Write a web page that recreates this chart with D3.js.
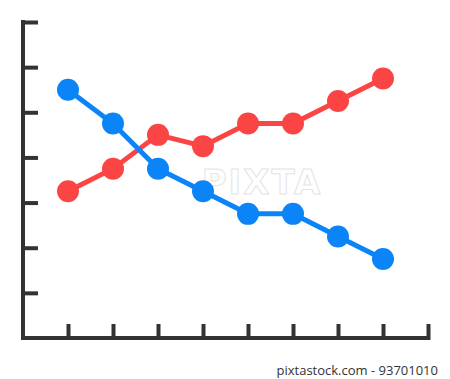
<!DOCTYPE html>
<html><head><meta charset="utf-8">
<script src="https://cdn.jsdelivr.net/npm/d3@7"></script>
<style>html,body{margin:0;padding:0;background:#fff;}svg{display:block;}</style>
</head><body>
<script>
const categories = [1, 2, 3, 4, 5, 6, 7, 8];
const blueValues = [5.5, 4.75, 3.75, 3.25, 2.75, 2.75, 2.25, 1.75];
const redValues = [3.25, 3.75, 4.5, 4.25, 4.75, 4.75, 5.25, 5.75];
const xTicks = [1, 2, 3, 4, 5, 6, 7, 8, 9];
const yTicks = [1, 2, 3, 4, 5, 6, 7];

const W = 450, H = 379;
const svg = d3.select("body").append("svg").attr("width", W).attr("height", H);

const x = d3.scaleLinear().domain([0, 9]).range([23, 428]);
const y = d3.scaleLinear().domain([0, 7]).range([338, 22]);

// faint watermark
svg.append("text").attr("x", 262).attr("y", 194).attr("text-anchor", "middle")
  .attr("font-family", "DejaVu Sans, sans-serif").attr("font-size", 34).attr("font-weight", "bold")
  .attr("fill", "none").attr("stroke", "#e4e4e4").attr("stroke-width", 1).attr("letter-spacing", 2)
  .text("PIXTA");

const axisColor = "#333";
// x axis with upward ticks
const xAxis = d3.axisBottom(x).tickValues(xTicks).tickSize(-12).tickFormat("");
const gx = svg.append("g").attr("transform", `translate(0,${y(0)})`).call(xAxis);
// y axis with inward ticks
const yAxis = d3.axisLeft(y).tickValues(yTicks).tickSize(-13).tickFormat("");
const gy = svg.append("g").attr("transform", `translate(${x(0)},0)`).call(yAxis);
[gx, gy].forEach(g => {
  g.select(".domain").remove();
  g.selectAll(".tick line").attr("stroke", axisColor).attr("stroke-width", 4).attr("stroke-linecap", "square");
});
svg.append("path")
  .attr("d", `M${x(0)},${y(0) - 316}V${y(0)}H${x(9)}`)
  .attr("fill", "none").attr("stroke", axisColor).attr("stroke-width", 4)
  .attr("stroke-linecap", "square").attr("stroke-linejoin", "miter");

const series = [
  { values: blueValues, color: "#0a84f7" },
  { values: redValues, color: "#fb4545" }
];
const line = d3.line().x((d, i) => x(categories[i])).y(d => y(d));
// draw red first? blue on top in crossing region (blue drawn last)
[series[1], series[0]].forEach(s => {
  svg.append("path").datum(s.values).attr("d", line)
    .attr("fill", "none").attr("stroke", s.color).attr("stroke-width", 5);
  svg.selectAll(null).data(s.values).enter().append("circle")
    .attr("cx", (d, i) => x(categories[i])).attr("cy", d => y(d)).attr("r", 11)
    .attr("fill", s.color);
});

svg.append("text").attr("x", 438).attr("y", 375).attr("text-anchor", "end")
  .attr("font-family", "Open Sans, DejaVu Sans, sans-serif").attr("font-size", 13)
  .attr("fill", "#333").text("pixtastock.com - 93701010");
</script>
</body></html>
